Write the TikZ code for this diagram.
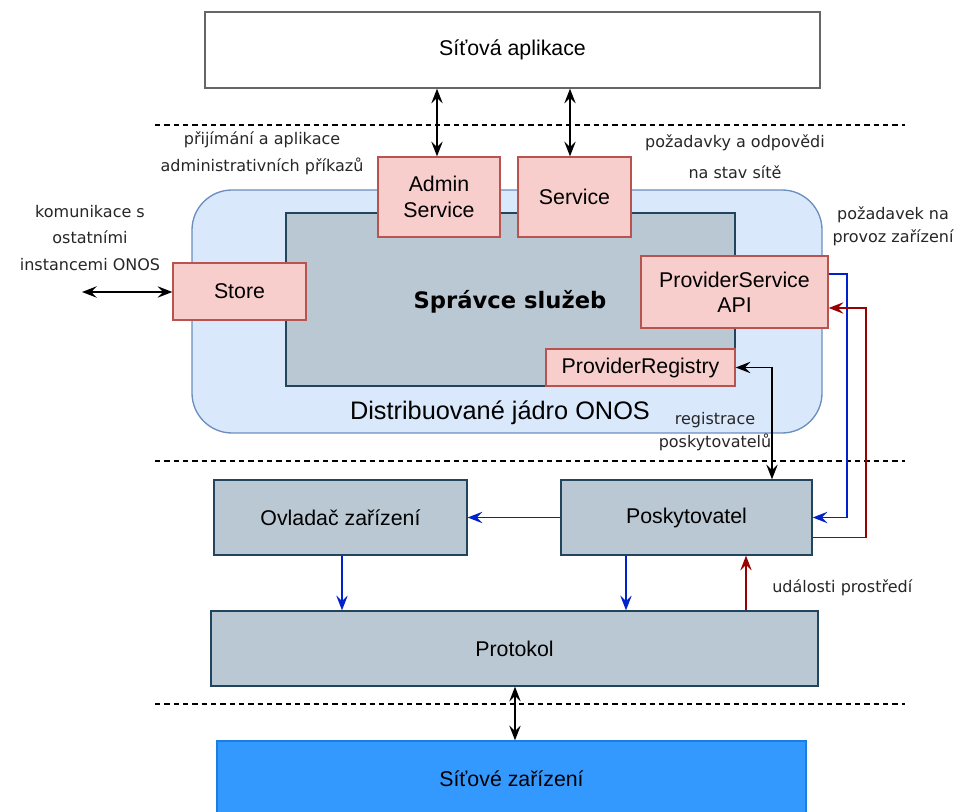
\documentclass[tikz,border=0pt]{standalone}
\usepackage{fontspec}
\setmainfont{Liberation Sans}
\newfontfamily\dvs{DejaVu Sans}
\usetikzlibrary{arrows.meta,calc}
\definecolor{pinkF}{HTML}{F8CECC}
\definecolor{pinkD}{HTML}{B85450}
\definecolor{grayF}{HTML}{BAC8D3}
\definecolor{grayD}{HTML}{23445D}
\definecolor{blueF}{HTML}{DAE8FC}
\definecolor{blueD}{HTML}{6C8EBF}
\definecolor{devF}{HTML}{3399FF}
\definecolor{devD}{HTML}{1A7FE0}
\definecolor{appD}{HTML}{666666}
\definecolor{linkB}{HTML}{0022CC}
\definecolor{linkR}{HTML}{990000}
\begin{document}
\begin{tikzpicture}[x=0.75pt,y=-0.75pt,
  sz/.style 2 args={minimum width=#1*0.75pt, minimum height=#2*0.75pt},
  box/.style={draw, line width=1pt, inner sep=0pt, align=center, font=\fontsize{16}{19}\selectfont},
  pinkbox/.style={box, fill=pinkF, draw=pinkD},
  graybox/.style={box, fill=grayF, draw=grayD},
  lbl/.style={font=\dvs\fontsize{12}{17}\selectfont, text=black!85, align=center, inner sep=0pt},
  lblw/.style={lbl, font=\dvs\fontsize{12}{20}\selectfont},
  sep/.style={dashed, line width=0.8pt, dash pattern=on 4pt off 3pt},
  tipA/.style={-{Stealth[length=11pt,width=8.5pt,inset=4pt]}},
  biA/.style={{Stealth[length=11pt,width=8.5pt,inset=4pt]}-{Stealth[length=11pt,width=8.5pt,inset=4pt]}, line width=1.4pt},
  blueA/.style={tipA, draw=linkB, line width=1.4pt},
  redA/.style={tipA, draw=linkR, line width=1.4pt},
]
\useasboundingbox (0,0) rectangle (964,812);

% separators
\draw[sep] (155,125) -- (905,125);
\draw[sep] (155,461) -- (905,461);
\draw[sep] (155,704) -- (905,704);

% top application
\node[box, draw=appD, fill=white, sz={615}{76}] (app) at (512.5,50) {Síťová aplikace};

% core
\node[draw=blueD, fill=blueF, line width=1pt, rounded corners=30pt, sz={630}{243}] (core) at (507,311.5) {};
\node[graybox, sz={449}{173}] (mgr) at (510.5,299.5) {};
\node[font=\dvs\bfseries\fontsize{17}{20}\selectfont, inner sep=0pt] (mgrlbl) at (510,302) {Správce služeb};
\node[font=\fontsize{19}{22}\selectfont, inner sep=0pt] (corelbl) at (500,413) {Distribuované jádro ONOS};

\node[pinkbox, sz={122}{80}] (admin) at (439,197) {Admin\\Service};
\node[pinkbox, sz={113}{80}] (svc) at (574.5,197) {Service};
\node[pinkbox, sz={133}{57}] (store) at (239.5,291.5) {Store};
\node[pinkbox, sz={187}{72}] (psapi) at (734.5,292) {ProviderService\\API};
\node[pinkbox, sz={189}{37}] (preg) at (640.5,367.5) {ProviderRegistry};

% lower boxes
\node[graybox, sz={253}{75}] (ovl) at (340.5,517.5) {Ovladač zařízení};
\node[graybox, sz={251}{75}] (posk) at (686.5,517.5) {Poskytovatel};
\node[graybox, sz={607}{75}] (prot) at (514.5,648.5) {Protokol};
\node[box, fill=devF, draw=devD, sz={589}{76}] (dev) at (511.5,779) {Síťové zařízení};

% labels
\node[lblw] (l1) at (262,153.5) {přijímání a aplikace\\administrativních příkazů};
\node[lbl] (l2) at (735,143) {požadavky a odpovědi};
\node[lbl] (l3) at (735,172) {na stav sítě};
\node[lblw] (l4) at (90,238) {komunikace s\\ostatními\\instancemi ONOS};
\node[lbl] (l5) at (893,226.5) {požadavek na\\provoz zařízení};
\node[lbl] (l6) at (715,431.5) {registrace\\poskytovatelů};
\node[lbl, anchor=west] (l7) at (772,588) {události prostředí};

% connectors
\draw[biA] (admin.north -| 437,0) -- (app.south -| 437,0);
\draw[biA] (svc.north -| 570,0) -- (app.south -| 570,0);
\coordinate (ext) at (82,292);
\draw[biA] (ext) -- (store.west |- ext);
\draw[biA] (preg.east) -| ([xshift=85.5*0.75pt]posk.north);
\draw[blueA] ([yshift=13.5pt]psapi.east) -- ++(18,0) |- (posk.east);
\draw[redA] ([yshift=-15pt]posk.east) -- ++(53,0) |- ([yshift=-12pt]psapi.east);
\draw[blueA] (posk.west) -- (ovl.east);
\draw[blueA] ([xshift=1.5*0.75pt]ovl.south) -- ([xshift=1.5*0.75pt]ovl.south |- prot.north);
\draw[blueA] ([xshift=-60.5*0.75pt]posk.south) -- ([xshift=-60.5*0.75pt]posk.south |- prot.north);
\draw[redA] ([xshift=59.5*0.75pt]posk.south |- prot.north) -- ([xshift=59.5*0.75pt]posk.south);
\draw[biA] (prot.south -| 515,0) -- (dev.north -| 515,0);
\end{tikzpicture}
\end{document}
